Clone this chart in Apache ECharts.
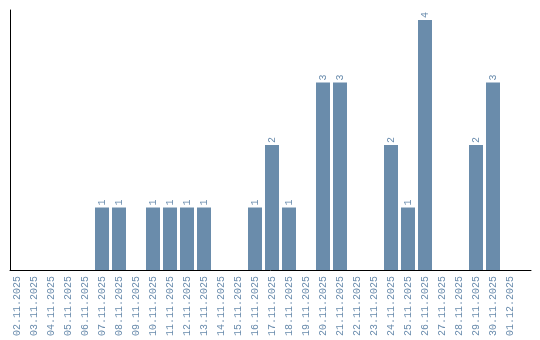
<!DOCTYPE html>
<html><head><meta charset="utf-8">
<script src="https://cdn.jsdelivr.net/npm/echarts@6/dist/echarts.min.js"></script>
<style>html,body{margin:0;padding:0;background:#fff}#c{width:540px;height:340px}</style>
</head><body><div id="c"></div>
<script>
const categories = ["02.11.2025","03.11.2025","04.11.2025","05.11.2025","06.11.2025","07.11.2025","08.11.2025","09.11.2025","10.11.2025","11.11.2025","12.11.2025","13.11.2025","14.11.2025","15.11.2025","16.11.2025","17.11.2025","18.11.2025","19.11.2025","20.11.2025","21.11.2025","22.11.2025","23.11.2025","24.11.2025","25.11.2025","26.11.2025","27.11.2025","28.11.2025","29.11.2025","30.11.2025","01.12.2025"];
const counts = [0,0,0,0,0,1,1,0,1,1,1,1,0,0,1,2,1,0,3,3,0,0,2,1,4,0,0,2,3,0];

const barColor = '#6a8cab';
const textColor = '#6a8cad';
const font = 'Liberation Mono';

const chart = echarts.init(document.getElementById('c'), null, {renderer:'canvas'});
chart.setOption({
  animation: false,
  grid: [
    {left: 8.5, top: 10, width: 510, height: 260},
    {left: 10, top: 10, width: 521, height: 260}
  ],
  xAxis: [
    {type:'category', gridIndex:0, data: categories,
     axisLine:{show:false}, axisTick:{show:false},
     axisLabel:{rotate:90, interval:0, margin:6, fontFamily:font, fontSize:10, color:textColor}},
    {type:'value', gridIndex:1, min:0, max:1, axisLine:{show:true, lineStyle:{color:'#000', width:1}},
     axisTick:{show:false}, axisLabel:{show:false}, splitLine:{show:false}}
  ],
  yAxis: [
    {type:'value', gridIndex:0, min:0, max:4.16, show:false},
    {type:'value', gridIndex:1, min:0, max:1, axisLine:{show:true, lineStyle:{color:'#000', width:1}},
     axisTick:{show:false}, axisLabel:{show:false}, splitLine:{show:false}}
  ],
  series: [{
    type:'bar', xAxisIndex:0, yAxisIndex:0,
    data: counts.map(v => v === 0 ? null : v),
    barWidth: 14,
    itemStyle:{color: barColor},
    label:{show:true, position:'top', rotate:90, align:'left', verticalAlign:'middle', distance:2,
      fontFamily:font, fontSize:10, color:textColor}
  }]
});
</script></body></html>
